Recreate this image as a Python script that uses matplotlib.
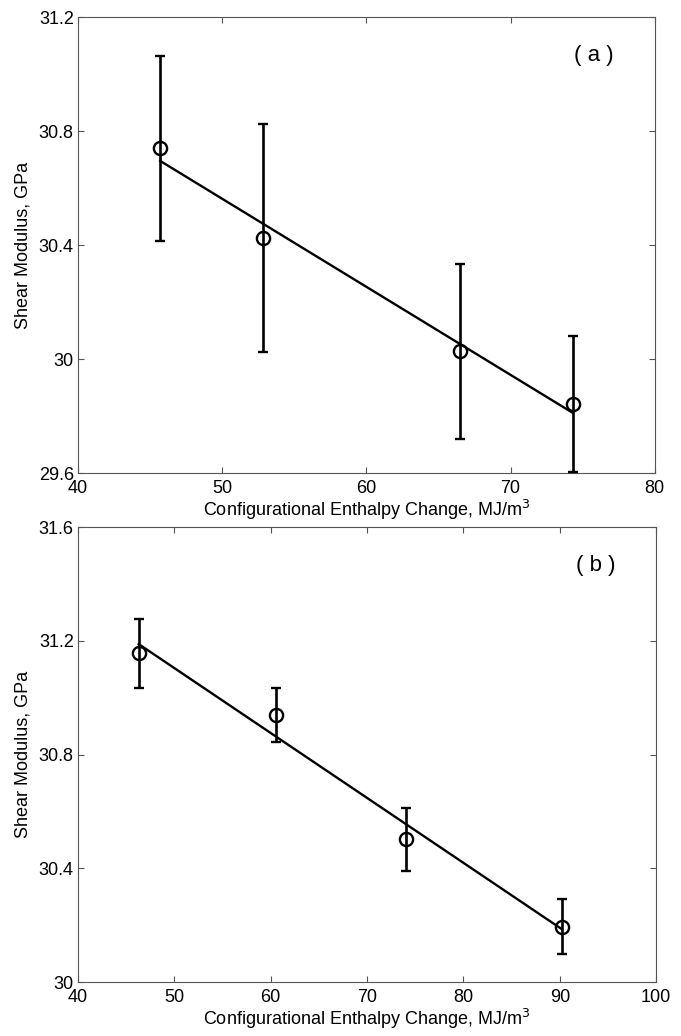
import numpy as np
import matplotlib.pyplot as plt

# panel (a)
enthalpy_a = [45.7, 52.8, 66.5, 74.3]
modulus_a = [30.74, 30.426, 30.028, 29.842]
err_a = [0.325, 0.40, 0.307, 0.24]

# panel (b)
enthalpy_b = [46.3, 60.6, 74.0, 90.2]
modulus_b = [31.156, 30.941, 30.502, 30.195]
err_b = [0.12, 0.095, 0.11, 0.096]

plt.rcParams['font.family'] = ['Liberation Sans', 'DejaVu Sans']
plt.rcParams['font.size'] = 13

fig = plt.figure(figsize=(6.81, 10.36), dpi=100)
ax_a = fig.add_axes([0.1145, 0.5434, 0.847, 0.440])
ax_b = fig.add_axes([0.1145, 0.0521, 0.849, 0.439])


def draw_panel(ax, x, y, err, xlim, ylim, xticks, yticks, ylabels, tag):
    x = np.array(x)
    y = np.array(y)
    # least-squares fit over the data range
    k, b = np.polyfit(x, y, 1)
    xs = np.array([x.min(), x.max()])
    ax.plot(xs, k * xs + b, color="black", lw=1.7, zorder=2)
    ax.errorbar(x, y, yerr=err, fmt="o", ms=9.5, mfc="none", mec="black",
                mew=1.7, ecolor="black", elinewidth=1.9, capsize=3.5,
                capthick=2.0, zorder=3)
    ax.set_xlim(*xlim)
    ax.set_ylim(*ylim)
    ax.set_xticks(xticks)
    ax.set_yticks(yticks)
    ax.set_yticklabels(ylabels)
    ax.tick_params(direction="in", top=True, right=True, length=4,
                   width=0.8, color="#555555", labelsize=13)
    ax.tick_params(axis="x", pad=5)
    ax.tick_params(axis="y", pad=3)
    for s in ax.spines.values():
        s.set_color("#555555")
        s.set_linewidth(0.8)
    ax.set_xlabel("Configurational Enthalpy Change, MJ/m$^3$", fontsize=13, labelpad=1)
    ax.set_ylabel("Shear Modulus, GPa", fontsize=13, labelpad=5)
    ax.text(0.895, 0.915, tag, transform=ax.transAxes, fontsize=16,
            ha="center", va="center")


draw_panel(ax_a, enthalpy_a, modulus_a, err_a, (40, 80), (29.6, 31.2),
           [40, 50, 60, 70, 80], [29.6, 30.0, 30.4, 30.8, 31.2],
           ["29.6", "30", "30.4", "30.8", "31.2"], "( a )")
draw_panel(ax_b, enthalpy_b, modulus_b, err_b, (40, 100), (30.0, 31.6),
           [40, 50, 60, 70, 80, 90, 100], [30.0, 30.4, 30.8, 31.2, 31.6],
           ["30", "30.4", "30.8", "31.2", "31.6"], "( b )")

fig.savefig("out.png", dpi=100)
